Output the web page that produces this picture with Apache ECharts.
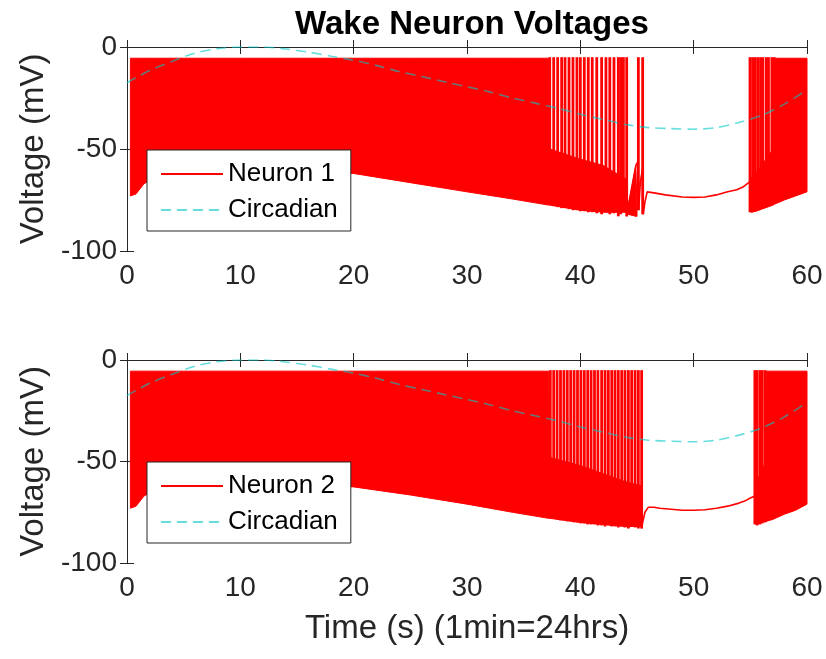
<!DOCTYPE html>
<html>
<head>
<meta charset="utf-8">
<script src="https://cdn.jsdelivr.net/npm/echarts@6/dist/echarts.min.js"></script>
<style>
  html, body { margin: 0; padding: 0; background: #fff; }
  #chart { width: 826px; height: 659px; }
</style>
</head>
<body>
<div id="chart"></div>
<script>
// ---- data (time in s, voltage in mV) ----
const xTicks = [0, 10, 20, 30, 40, 50, 60]
const yTicks = [-100, -50, 0]

// circadian drive (same curve in both panels)
const circT = [0, 2, 4, 6, 8, 10, 12, 14, 16, 18, 20, 22, 24, 26, 28, 30, 32, 34, 36, 38, 40, 42, 44, 46, 48, 50, 52, 54, 56, 58, 60]
const circV = [-17.5, -11.5, -7, -3, -0.8, 0, 0, -1, -2.5, -4.5, -6.5, -9, -12, -14.5, -17, -19.5, -22, -25, -27.5, -30, -33, -35.5, -38, -39.5, -40, -40.3, -39.5, -37, -33.5, -28, -21]

const spikePeak = -5

// ---- Neuron 1 ----
// dense burst, drawn as the band between trough envelope and peak
const band1aT = [0.3, 0.8, 1.5, 2.5, 5, 10, 15, 20, 25, 30, 34, 37.2, 37.3, 40, 42, 44.1, 44.2, 44.9, 45.0]
const band1aLo = [-73, -72, -67, -64, -63, -62, -62, -62, -66.5, -71, -74.5, -77.5, -77.5, -80, -81, -81, -82, -83, -83]
const band1aHi = [-5.5, -5.5, -5.5, -5.5, -5.5, -5.5, -5.5, -5.5, -5.5, -5.5, -5.5, -5.5, -50, -55, -58, -65, -79, -58, -80]
const band1bT = [54.97, 55.05, 55.5, 56, 56.5, 57.0, 57.15, 58, 59, 60]
const band1bLo = [-68, -81, -80.5, -79.5, -78.5, -77.5, -77, -75, -73, -71]
const band1bHi = [-66, -64, -62, -58, -54, -50, -5.5, -5.5, -5.5, -5.5]
// single spikes where they can be told apart
const spike1T = [37.3, 37.65, 38.0, 38.35, 38.65, 39.0, 39.35, 39.7, 40.0, 40.35, 40.7, 41.05, 41.45, 41.88, 42.26, 42.6, 42.97, 43.35, 43.56, 43.8, 44.09, 45.12, 45.5,
  54.97, 55.2, 55.42, 55.65, 55.9, 56.1, 56.4, 56.6, 56.9, 57.1]
const spike1Lo = [-77.5, -78, -78.5, -79, -79, -79.5, -80, -80, -80.5, -80.5, -81, -81, -81.5, -82, -81, -82, -81.5, -83, -82, -81, -83, -80, -82,
  -81, -81, -80.5, -80, -79.5, -79, -78.5, -78, -77.5, -77]
// quiet stretch between the bursts
const quiet1T = [44.09, 44.2, 44.5, 44.9, 45.1, 45.15, 45.3, 45.48, 45.55, 45.7, 45.9, 46.5, 47.5, 49, 50, 51, 52, 53, 53.8, 54.4, 54.97]
const quiet1V = [-83, -79, -70, -58, -56, -80, -66, -60, -82, -76, -71, -71.5, -72.5, -73.5, -73.7, -73.5, -72.5, -71, -70, -68.5, -66]

// ---- Neuron 2 ----
const band2aT = [0.3, 0.8, 1.5, 2.5, 5, 10, 15, 20, 25, 30, 34, 37.2, 37.3, 40, 42, 44, 45.41]
const band2aLo = [-73, -72, -67, -64, -63, -62, -62, -62.5, -66.5, -71, -75, -78, -78, -80, -81, -82, -82]
const band2aHi = [-5.5, -5.5, -5.5, -5.5, -5.5, -5.5, -5.5, -5.5, -5.5, -5.5, -5.5, -5.5, -48, -52, -56, -60, -62]
const band2bT = [55.4, 55.5, 56, 56.35, 56.4, 57, 58, 59, 60]
const band2bLo = [-68, -81, -80, -79.5, -79.5, -78.5, -76, -74, -71]
const band2bHi = [-66, -60, -55, -50, -5.5, -5.5, -5.5, -5.5, -5.5]
const spike2T = [37.35, 37.65, 37.95, 38.25, 38.55, 38.85, 39.15, 39.45, 39.75, 40.05, 40.35, 40.65, 40.95, 41.25, 41.55,
  41.88, 42.18, 42.47, 42.77, 43.06, 43.35, 43.65, 43.94, 44.24, 44.53, 44.83, 45.12, 45.41,
  55.4, 55.6, 55.85, 56.05, 56.3]
const spike2Lo = [-78, -78, -78.5, -79, -79, -79.5, -79.5, -80, -80, -80.5, -80.5, -81, -81, -81, -81.5,
  -81.5, -82, -81.5, -82, -82, -82.5, -82, -82.5, -83, -82, -82.5, -83, -83,
  -81, -81.5, -81, -80.5, -80]
const quiet2T = [45.41, 45.5, 45.7, 46, 46.5, 47, 48, 49, 50, 51, 52, 53, 54, 54.5, 55, 55.4]
const quiet2V = [-83, -80, -75, -72.5, -72.5, -73, -73.5, -74, -74, -73.8, -73, -72, -70.5, -69.5, -68, -67]

const RED = '#ff0000'
const AXIS = '#262626'
const FONT = 'Liberation Sans, Arial, Helvetica, sans-serif'

function bandSeries(name, ai, T, Lo, Hi) {
  return {
    type: 'custom', name: name, xAxisIndex: ai, yAxisIndex: ai, silent: true, z: 2,
    encode: { x: 0, y: 1 },
    data: [[T[0], Lo[0]]],
    renderItem(params, api) {
      const pts = []
      for (let i = 0; i < T.length; i++) pts.push(api.coord([T[i], Hi[i]]))
      for (let i = T.length - 1; i >= 0; i--) pts.push(api.coord([T[i], Lo[i]]))
      return { type: 'polygon', shape: { points: pts }, style: { fill: RED, stroke: RED, lineWidth: 1 } }
    }
  }
}

function spikeSeries(name, ai, T, Lo) {
  return {
    type: 'custom', name: name, xAxisIndex: ai, yAxisIndex: ai, silent: true, z: 3,
    encode: { x: 0, y: [1, 2] },
    data: T.map((t, i) => [t, Lo[i], spikePeak]),
    renderItem(params, api) {
      const a = api.coord([api.value(0), api.value(1)])
      const b = api.coord([api.value(0), api.value(2)])
      return { type: 'line', shape: { x1: a[0], y1: a[1], x2: b[0], y2: b[1] }, style: { stroke: RED, lineWidth: 2.8 } }
    }
  }
}

function traceSeries(name, ai, T, V) {
  return {
    type: 'line', name: name, xAxisIndex: ai, yAxisIndex: ai, z: 3,
    symbol: 'none', silent: true,
    lineStyle: { color: RED, width: 1.6 },
    itemStyle: { color: RED },
    data: T.map((t, i) => [t, V[i]])
  }
}

function circSeries(ai) {
  return {
    type: 'line', name: 'Circadian', xAxisIndex: ai, yAxisIndex: ai, z: 4,
    symbol: 'none', silent: true, smooth: 0.3,
    lineStyle: { color: '#00c8c8', width: 1.6, type: [10, 6], opacity: 0.6 },
    itemStyle: { color: '#00c8c8' },
    data: circT.map((t, i) => [t, circV[i]])
  }
}

function xAxes(gi, withName) {
  return [{
    type: 'value', gridIndex: gi, min: xTicks[0], max: xTicks[xTicks.length - 1], interval: 10,
    name: withName ? 'Time (s) (1min=24hrs)' : '', nameLocation: 'middle', nameGap: 49,
    nameTextStyle: { fontSize: 33, color: '#262626', fontFamily: FONT },
    axisLine: { show: true, lineStyle: { color: AXIS, width: 1 } },
    axisTick: { show: true, inside: true, length: 7, lineStyle: { color: AXIS } },
    axisLabel: { fontSize: 28, color: '#262626', fontFamily: FONT, margin: 11 },
    splitLine: { show: false }
  }, {
    type: 'value', gridIndex: gi, position: 'top', min: 0, max: 60, interval: 10,
    axisLine: { show: true, lineStyle: { color: AXIS, width: 1 } },
    axisTick: { show: true, inside: true, length: 7, lineStyle: { color: AXIS } },
    axisLabel: { show: false }, splitLine: { show: false }
  }]
}

function yAxes(gi) {
  return [{
    type: 'value', gridIndex: gi, min: yTicks[0], max: yTicks[yTicks.length - 1], interval: 50,
    name: 'Voltage (mV)', nameLocation: 'middle', nameGap: 72,
    nameTextStyle: { fontSize: 33, color: '#262626', fontFamily: FONT },
    axisLine: { show: true, lineStyle: { color: AXIS, width: 1 } },
    axisTick: { show: true, inside: true, length: 7, lineStyle: { color: AXIS } },
    axisLabel: { fontSize: 28, color: '#262626', fontFamily: FONT, margin: 10 },
    splitLine: { show: false }
  }, {
    type: 'value', gridIndex: gi, position: 'right', min: -100, max: 0, interval: 50,
    axisLine: { show: true, lineStyle: { color: AXIS, width: 1 } },
    axisTick: { show: true, inside: true, length: 7, lineStyle: { color: AXIS } },
    axisLabel: { show: false }, splitLine: { show: false }
  }]
}

function legendAt(top, names) {
  return {
    data: names, orient: 'vertical', left: 147, top: top,
    backgroundColor: '#fff', borderColor: AXIS, borderWidth: 1,
    padding: [10, 13, 7, 13], itemGap: 8, itemWidth: 62, itemHeight: 14,
    selectedMode: false,
    itemStyle: { opacity: 0 },
    textStyle: { fontSize: 26, color: '#000', fontFamily: FONT, lineHeight: 28 }
  }
}

const chart = echarts.init(document.getElementById('chart'), null, { renderer: 'canvas' })
chart.setOption({
  animation: false,
  backgroundColor: '#fff',
  title: {
    text: 'Wake Neuron Voltages', left: 467, top: 3, textAlign: 'center',
    textStyle: { fontSize: 33, fontWeight: 'bold', color: '#000', fontFamily: FONT }
  },
  legend: [legendAt(150, ['Neuron 1', 'Circadian']), legendAt(462, ['Neuron 2', 'Circadian'])],
  grid: [
    { left: 127, right: 19, top: 47, height: 204 },
    { left: 127, right: 19, top: 360, height: 203 }
  ],
  xAxis: [...xAxes(0, false), ...xAxes(1, true)],
  yAxis: [...yAxes(0), ...yAxes(1)],
  series: [
    bandSeries('band 1a', 0, band1aT, band1aLo, band1aHi),
    bandSeries('band 1b', 0, band1bT, band1bLo, band1bHi),
    spikeSeries('spikes 1', 0, spike1T, spike1Lo),
    traceSeries('Neuron 1', 0, quiet1T, quiet1V),
    circSeries(0),
    bandSeries('band 2a', 2, band2aT, band2aLo, band2aHi),
    bandSeries('band 2b', 2, band2bT, band2bLo, band2bHi),
    spikeSeries('spikes 2', 2, spike2T, spike2Lo),
    traceSeries('Neuron 2', 2, quiet2T, quiet2V),
    circSeries(2)
  ]
})
</script>
</body>
</html>
